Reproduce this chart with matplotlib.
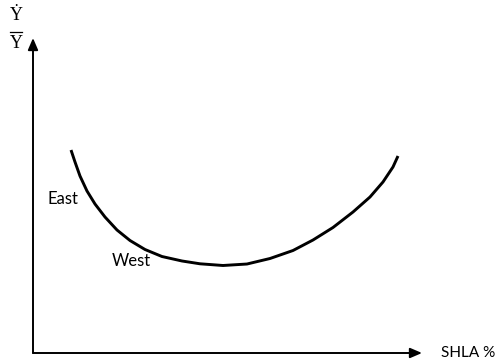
import matplotlib
matplotlib.use('Agg')
import matplotlib.pyplot as plt

# curve, axis units 0..100
shla = [9.77, 10.80, 12.08, 13.88, 15.94, 18.51, 21.59, 24.94, 28.79, 33.16,
        38.30, 42.93, 48.84, 55.01, 60.93, 66.84, 71.98, 77.12, 82.26, 86.63,
        89.97, 92.54, 93.83]
growth = [64.44, 60.63, 56.19, 51.43, 47.30, 43.17, 39.05, 35.71, 32.86, 30.63,
          29.21, 28.32, 27.78, 28.25, 30.00, 32.54, 35.87, 39.84, 44.76, 49.52,
          54.29, 59.05, 62.54]

region_labels = ['East', 'West']
region_x = [7.7, 25.2]
region_y = [48.9, 29.2]

SANS = ['Lato', 'DejaVu Sans']
SERIF = ['Liberation Serif', 'DejaVu Serif']

fig = plt.figure(figsize=(4.98, 3.61), dpi=100)
ax = fig.add_axes([33 / 498, 8 / 361, 389 / 498, 315 / 361])
ax.set_xlim(0, 100)
ax.set_ylim(0, 100)
ax.axis('off')

# axes with arrow heads
arrow = dict(arrowstyle='-|>,head_length=0.7,head_width=0.3', color='black',
             lw=1.4, shrinkA=0, shrinkB=0)
ax.annotate('', xy=(100, 0), xytext=(0, 0), arrowprops=arrow, annotation_clip=False)
ax.annotate('', xy=(0, 100), xytext=(0, 0), arrowprops=arrow, annotation_clip=False)

ax.plot(shla, growth, color='black', lw=2.1, solid_capstyle='butt',
        solid_joinstyle='round', clip_on=False)

for lab, x, y in zip(region_labels, region_x, region_y):
  ax.text(x, y, lab, family=SANS, fontsize=12, ha='center', va='center')

# right edge of the x label sits just inside the picture
ax.text(118.8, 0, 'SHLA %', family=SANS, fontsize=11, ha='right', va='center',
        clip_on=False)

# y label as a fraction: Y dot over Y
fig.text(16 / 498, 1 - 16 / 361, '\u1e8e', family=SERIF, fontsize=13,
         ha='center', va='center')
fig.add_artist(plt.Line2D([10 / 498, 22 / 498], [1 - 32 / 361, 1 - 32 / 361],
                          color='black', lw=0.9, transform=fig.transFigure))
fig.text(16 / 498, 1 - 43 / 361, 'Y', family=SERIF, fontsize=13,
         ha='center', va='center')

fig.savefig('out.png', dpi=100)
